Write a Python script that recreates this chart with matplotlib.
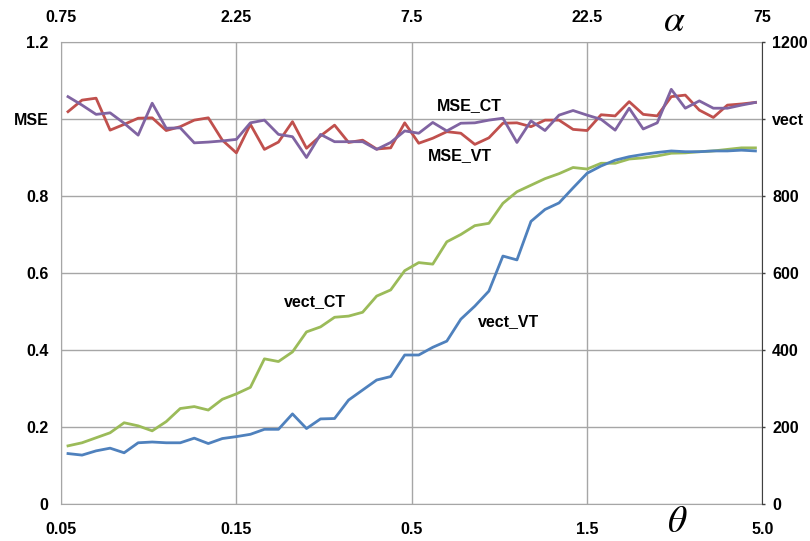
import numpy as np
import matplotlib
matplotlib.use('Agg')
import matplotlib.pyplot as plt

# ---- Data ----

theta_labels = ['0.05', '0.15', '0.5', '1.5', '5.0']
alpha_labels = ['0.75', '2.25', '7.5', '22.5', '75']

mse_ct = [1.019, 1.049, 1.054, 0.971, 0.986, 1.002, 1.003, 0.970, 0.980, 0.997,
          1.003, 0.945, 0.912, 0.986, 0.921, 0.940, 0.993, 0.924, 0.956, 0.984,
          0.939, 0.945, 0.922, 0.925, 0.990, 0.937, 0.950, 0.967, 0.963, 0.934,
          0.951, 0.989, 0.990, 0.980, 0.997, 0.997, 0.973, 0.970, 1.011, 1.008,
          1.045, 1.012, 1.008, 1.058, 1.062, 1.023, 1.004, 1.036, 1.039, 1.043]

mse_vt = [1.058, 1.036, 1.012, 1.016, 0.989, 0.958, 1.041, 0.976, 0.977, 0.938,
          0.940, 0.943, 0.947, 0.990, 0.997, 0.960, 0.954, 0.900, 0.960, 0.941,
          0.941, 0.941, 0.921, 0.939, 0.969, 0.963, 0.991, 0.969, 0.989, 0.990,
          0.997, 1.002, 0.939, 0.995, 0.970, 1.010, 1.022, 1.010, 0.999, 0.971,
          1.028, 0.974, 0.990, 1.077, 1.028, 1.047, 1.028, 1.028, 1.036, 1.043]

vect_ct = [151, 159, 172, 185, 211, 203, 190, 214, 248, 253,
           244, 272, 286, 303, 377, 370, 395, 447, 460, 485,
           488, 498, 540, 556, 606, 627, 623, 681, 700, 723,
           729, 781, 811, 828, 845, 858, 874, 870, 885, 885,
           896, 899, 904, 911, 912, 915, 917, 921, 925, 925]

vect_vt = [131, 127, 138, 145, 133, 159, 161, 159, 159, 171,
           157, 170, 175, 181, 194, 194, 234, 196, 221, 222,
           270, 296, 322, 331, 387, 387, 407, 423, 480, 514,
           553, 644, 634, 734, 765, 782, 821, 859, 878, 893,
           902, 908, 913, 917, 915, 915, 917, 917, 919, 917]

left_ticks  = [0, 0.2, 0.4, 0.6, 0.8, 1.0, 1.2]
left_labels = ['0', '0.2', '0.4', '0.6', '0.8', 'MSE', '1.2']
right_ticks  = [0, 200, 400, 600, 800, 1000, 1200]
right_labels = ['0', '200', '400', '600', '800', 'vect', '1200']

# ---- Styling ----

plt.rcParams['font.family'] = ['Liberation Sans', 'DejaVu Sans']
plt.rcParams['mathtext.fontset'] = 'stix'
label_font = dict(fontsize=11.5, fontweight='bold', color='black')
grid_color = '#a6a6a6'

x_positions = np.arange(len(mse_ct))
x_min, x_max = -0.5, len(mse_ct) - 0.5
tick_positions = np.linspace(x_min, x_max, len(theta_labels))

fig = plt.figure(figsize=(8.1, 5.41), dpi=100)
ax_mse = fig.add_axes([0.0753, 0.0684, 0.866, 0.854])
ax_vect = ax_mse.twinx()

# ---- Lines ----

ax_mse.plot(x_positions, mse_ct, color='#c0504d', linewidth=2.0, zorder=3)
ax_mse.plot(x_positions, mse_vt, color='#8064a2', linewidth=2.0, zorder=3)
ax_vect.plot(x_positions, vect_ct, color='#9bbb59', linewidth=2.0)
ax_vect.plot(x_positions, vect_vt, color='#4f81bd', linewidth=2.0)

# ---- Axes ----

ax_mse.set_xlim(x_min, x_max)
ax_mse.set_ylim(0, 1.2)
ax_vect.set_ylim(0, 1200)

ax_mse.set_xticks(tick_positions)
ax_mse.set_xticklabels(theta_labels, **label_font)
ax_mse.set_yticks(left_ticks)
ax_mse.set_yticklabels(left_labels, **label_font)
ax_vect.set_yticks(right_ticks)
ax_vect.set_yticklabels(right_labels, **label_font)

ax_mse.grid(True, color=grid_color, linewidth=1.0)
ax_mse.set_axisbelow(True)
ax_mse.tick_params(axis='x', length=0, pad=13)
ax_mse.tick_params(axis='y', length=0, pad=9)
ax_vect.tick_params(axis='y', length=2, width=1, color='#404040', pad=5)

for side in ['left', 'bottom', 'top']:
    ax_mse.spines[side].set_color(grid_color)
    ax_vect.spines[side].set_visible(False)
ax_mse.spines['right'].set_visible(False)
ax_vect.spines['right'].set_color('#404040')

top_axis = ax_mse.secondary_xaxis('top')
top_axis.set_xticks(tick_positions)
top_axis.set_xticklabels(alpha_labels, **label_font)
top_axis.tick_params(length=0, pad=12)
top_axis.spines['top'].set_visible(False)

# ---- Series labels and axis symbols ----

ax_mse.text(28.6, 1.034, 'MSE_CT', ha='center', va='center', **label_font)
ax_mse.text(27.9, 0.906, 'MSE_VT', ha='center', va='center', **label_font)
ax_vect.text(17.6, 527, 'vect_CT', ha='center', va='center', **label_font)
ax_vect.text(31.4, 473, 'vect_VT', ha='center', va='center', **label_font)

fig.text(0.833, 0.962, r'$\alpha$', fontsize=27, ha='center', va='center')
fig.text(0.836, 0.036, r'$\theta$', fontsize=27, ha='center', va='center')

fig.savefig('out.png', dpi=100)
